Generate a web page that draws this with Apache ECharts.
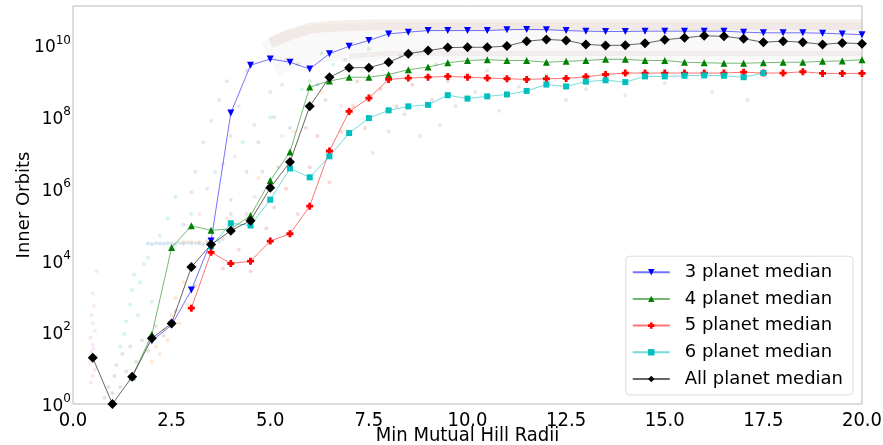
<!DOCTYPE html>
<html>
<head>
<meta charset="utf-8">
<script src="https://cdn.jsdelivr.net/npm/echarts@6/dist/echarts.min.js"></script>
<style>
  html, body { margin: 0; padding: 0; background: #fff; }
  #chart { width: 883px; height: 445px; }
</style>
</head>
<body>
<div id="chart"></div>
<script>
// min mutual hill radii (x bins)
const hillRadii = [0.5, 1.0, 1.5, 2.0, 2.5, 3.0, 3.5, 4.0, 4.5, 5.0, 5.5, 6.0, 6.5, 7.0, 7.5, 8.0, 8.5, 9.0, 9.5, 10.0,
  10.5, 11.0, 11.5, 12.0, 12.5, 13.0, 13.5, 14.0, 14.5, 15.0, 15.5, 16.0, 16.5, 17.0, 17.5, 18.0, 18.5, 19.0, 19.5, 20.0]

// medians of inner orbits, one value per bin (null = no data)
const median3 = [null, null, null, 58, 159, 1.5e3, 3.5e4, 1.3e8, 2.8e9, 4.2e9, 3.4e9, 2.2e9, 5.9e9, 9.5e9, 1.38e10, 2.1e10, 2.35e10, 2.6e10, 2.6e10, 2.6e10,
  2.6e10, 2.75e10, 2.8e10, 2.75e10, 2.6e10, 2.5e10, 2.45e10, 2.45e10, 2.5e10, 2.5e10, 2.5e10, 2.5e10, 2.5e10, 2.35e10, 2.25e10, 2.25e10, 2.25e10, 2.2e10, 2.1e10, 2.0e10]
const median4 = [null, null, 5.8, 87, 2.3e4, 9.3e4, 7e4, 7.6e4, 1.8e5, 1.7e6, 1.07e7, 6.9e8, 1.02e9, 1.3e9, 1.3e9, 1.55e9, 2.1e9, 2.5e9, 3.3e9, 3.8e9,
  4.0e9, 3.8e9, 3.8e9, 3.4e9, 3.6e9, 3.8e9, 4.1e9, 4.1e9, 3.8e9, 3.8e9, 3.4e9, 3.3e9, 3.2e9, 3.2e9, 3.3e9, 3.4e9, 3.4e9, 3.6e9, 3.7e9, 4.0e9]
const median5 = [null, null, null, null, null, 470, 1.7e4, 8.3e3, 9.6e3, 3.5e4, 5.6e4, 3.3e5, 1.14e7, 1.45e8, 3.4e8, 1.13e9, 1.23e9, 1.3e9, 1.37e9, 1.3e9,
  1.23e9, 1.18e9, 1.13e9, 1.18e9, 1.2e9, 1.34e9, 1.55e9, 1.7e9, 1.7e9, 1.7e9, 1.7e9, 1.7e9, 1.7e9, 1.8e9, 1.7e9, 1.7e9, 1.85e9, 1.66e9, 1.66e9, 1.66e9]
const median6 = [null, null, null, null, null, null, 2.5e4, 1.1e5, 9.5e4, 5e5, 3.7e6, 2.1e6, 8.1e6, 3.6e7, 9.4e7, 1.55e8, 2e8, 2.2e8, 4.1e8, 3.3e8,
  3.8e8, 4.3e8, 5.4e8, 8.1e8, 7.2e8, 9.8e8, 1.07e9, 9.5e8, 1.37e9, 1.37e9, 1.43e9, 1.46e9, 1.43e9, 1.3e9, 1.7e9, null, null, null, null, null]
const medianAll = [19.5, 1, 5.8, 68, 177, 6.6e3, 2.8e4, 6.8e4, 1.3e5, 1.07e6, 5.6e6, 2e8, 1.3e9, 2.4e9, 2.4e9, 3.4e9, 5.9e9, 7.2e9, 8.7e9, 8.9e9,
  8.9e9, 9.6e9, 1.32e10, 1.47e10, 1.38e10, 1.07e10, 1.0e10, 1.02e10, 1.15e10, 1.44e10, 1.63e10, 1.86e10, 1.8e10, 1.54e10, 1.23e10, 1.32e10, 1.23e10, 1.07e10, 1.18e10, 1.12e10]

// faint cloud of individual systems (approximate)
const pinkPts = [[0.45, 4], [0.5, 6], [0.55, 9], [0.42, 14], [0.5, 18], [0.58, 22], [0.46, 28], [0.52, 35], [0.5, 45], [0.44, 70], [0.56, 110],
  [0.5, 180], [0.47, 300], [0.53, 550], [0.5, 1200], [0.6, 5e3], [3.2, 2e5], [4.1, 8e6], [5.3, 3e7], [6.8, 2e8], [4.6, 6e5]]
const brownPts = [[0.8, 1.5], [0.9, 3], [1.0, 2], [1.05, 6], [1.1, 12], [1.2, 3], [1.25, 25], [1.35, 8], [1.45, 40], [1.6, 15], [1.75, 60],
  [1.9, 30], [2.1, 150], [2.3, 80], [2.6, 400], [3.1, 2e3], [3.8, 4e4], [4.4, 2e5], [5.2, 4e6], [5.9, 5e7], [6.4, 3e8], [7.2, 1e9]]
const cyanPts = [[1.2, 40], [1.3, 90], [1.35, 200], [1.45, 600], [1.5, 1500], [1.55, 4000], [1.65, 300], [1.7, 2500], [1.8, 8000], [1.9, 1.2e4],
  [2.0, 700], [2.2, 5e4], [2.4, 1.5e5], [2.6, 6e5], [3.0, 2e5], [3.6, 3e6], [4.3, 2e7], [5.0, 1e8], [5.8, 6e8], [6.6, 3e9]]
const bluePts = [[1.9, 3e4], [2.0, 2.9e4], [2.1, 3.1e4], [2.2, 3e4], [2.3, 2.95e4], [2.4, 3.05e4], [2.5, 3e4], [2.6, 2.9e4], [2.7, 3.1e4],
  [2.8, 3e4], [2.9, 3.2e4], [3.0, 3e4], [3.1, 3.1e4], [3.2, 3e4], [3.3, 2.9e4], [3.4, 3.2e4], [3.5, 3e4], [3.7, 3.4e4], [4.0, 2e5],
  [4.8, 3e6], [5.5, 5e7], [6.2, 8e8]]
const orangePts = [[2.0, 15], [2.1, 40], [2.2, 25], [2.3, 120], [2.4, 60], [2.5, 300], [2.6, 900], [2.7, 180], [2.8, 2500], [2.9, 600],
  [3.0, 7000], [2.8, 3.3e4], [3.0, 3.4e4], [3.2, 3.3e4], [3.4, 3.5e4], [3.9, 1.5e5], [4.7, 2e6], [5.6, 4e7], [6.3, 5e8]]
const purplePts = [[2.8, 1e5], [3.0, 8e5], [3.1, 3e6], [3.3, 2e7], [3.4, 1e6], [3.5, 8e7], [3.7, 3e8], [3.8, 5e6], [3.9, 1e9], [4.0, 3e7],
  [4.2, 2e8], [4.4, 2e9], [4.6, 6e7], [5.0, 5e8], [5.4, 4e9]]
const redPts = [[3.8, 6e3], [4.2, 2e4], [4.5, 5e3], [4.9, 8e4], [5.1, 3e5], [5.4, 1e6], [5.7, 2e5], [6.0, 4e6], [6.2, 3e7], [6.5, 1.5e6],
  [6.8, 4e7], [7.1, 2e8], [7.4, 5e7], [7.8, 6e8], [8.2, 2e8], [8.6, 8e8], [9.1, 3e8], [9.5, 1e9]]
const greenPts = [[4.0, 5e5], [4.4, 3e6], [4.7, 2e7], [5.1, 1e8], [5.3, 8e8], [5.7, 3e9], [6.0, 1e9], [6.3, 6e9], [6.9, 4e9], [7.5, 8e9],
  [8.3, 5e9], [9.2, 3e9], [10.5, 2e9], [12, 1.5e9]]
const grayPts = [[7.6, 1e7], [8.0, 4e7], [8.4, 1.2e8], [8.8, 3e7], [9.3, 6e7], [9.7, 2e8], [10.2, 5e8], [10.8, 1.5e8], [11.3, 7e8],
  [12.5, 3e8], [13.0, 6e8], [14.0, 4e8], [15.0, 9e8], [16.2, 5e8], [17.1, 3e8]]

// dense band of the cloud at the top
const bandX = [5.0, 5.5, 6.0, 6.5, 7.0, 7.5, 8.0, 9.0, 10.0, 12.0, 14.0, 16.0, 18.0, 20.0]
const bandWide = [4e9, 8e9, 1.1e10, 1.2e10, 1.2e10, 1.25e10, 1.3e10, 1.3e10, 1.3e10, 1.3e10, 1.3e10, 1.3e10, 1.3e10, 1.3e10]
const bandTop = [1.2e10, 2e10, 3e10, 3.4e10, 3.6e10, 3.7e10, 3.8e10, 3.8e10, 3.8e10, 3.8e10, 3.8e10, 3.8e10, 3.8e10, 3.8e10]
const bandLow = [null, null, null, null, 5e9, 5.5e9, 6e9, 6e9, 6e9, 6e9, 6e9, 6e9, 6e9, 6e9]

function pairs(xs, ys) {
  let out = []
  for (let i = 0; i < xs.length; i++) {
    if (ys[i] != null) out.push([xs[i], ys[i]])
  }
  return out
}

function medianSeries(name, values, symbol, size, color, lineColor, extra) {
  return Object.assign({
    name: name,
    type: 'line',
    data: pairs(hillRadii, values),
    symbol: symbol,
    symbolSize: size,
    showAllSymbol: true,
    itemStyle: { color: color },
    lineStyle: { color: lineColor, width: 1 },
    emphasis: { disabled: true },
    z: 5
  }, extra || {})
}

function cloud(pts, color) {
  return {
    type: 'scatter',
    data: pts,
    symbolSize: 4,
    itemStyle: { color: color, opacity: 0.18 },
    silent: true,
    z: 1
  }
}

function band(values, width, color) {
  return {
    type: 'line',
    data: pairs(bandX, values),
    showSymbol: false,
    symbol: 'none',
    lineStyle: { color: color, width: width, cap: 'butt', join: 'round' },
    silent: true,
    z: 1
  }
}

const chart = echarts.init(document.getElementById('chart'))

chart.setOption({
  animation: false,
  backgroundColor: '#fff',
  grid: {
    left: 73,
    right: 21,
    top: 6,
    bottom: 41,
    outerBoundsMode: 'none',
    containLabel: false,
    show: true,
    borderColor: '#b8b8b8',
    borderWidth: 1,
    backgroundColor: 'transparent'
  },
  legend: {
    data: ['3 planet median', '4 planet median', '5 planet median', '6 planet median', 'All planet median'],
    orient: 'vertical',
    right: 30,
    bottom: 50,
    itemWidth: 37,
    itemHeight: 8,
    itemGap: 8.7,
    padding: [7, 10, 7, 6],
    borderColor: '#dddddd',
    borderWidth: 1,
    borderRadius: 4,
    backgroundColor: 'rgba(255,255,255,0.85)',
    textStyle: {
      fontFamily: 'DejaVu Sans',
      fontSize: 18,
      color: '#000',
      padding: [0, 0, 0, 10]
    }
  },
  xAxis: {
    type: 'value',
    min: 0,
    max: 20,
    interval: 2.5,
    name: 'Min Mutual Hill Radii',
    nameLocation: 'middle',
    nameGap: 22,
    nameMoveOverlap: false,
    nameTextStyle: { fontFamily: 'DejaVu Sans Condensed', fontSize: 20, color: '#000' },
    axisLine: { show: false },
    axisTick: { show: false },
    splitLine: { show: false },
    axisLabel: {
      fontFamily: 'DejaVu Sans Condensed',
      fontSize: 20,
      color: '#000',
      margin: 7,
      formatter: v => v.toFixed(1)
    }
  },
  yAxis: {
    type: 'log',
    logBase: 100,
    min: 1,
    max: 1.26e11,
    name: 'Inner Orbits',
    nameLocation: 'middle',
    nameGap: 40,
    nameMoveOverlap: false,
    nameTextStyle: { fontFamily: 'DejaVu Sans', fontSize: 18, color: '#000' },
    axisLine: { show: false },
    axisTick: { show: false },
    splitLine: { show: false },
    axisLabel: {
      margin: 2,
      showMaxLabel: false,
      formatter: function (v) {
        const e = Math.log10(v)
        const r = Math.round(e)
        if (Math.abs(e - r) > 1e-6 || r % 2 !== 0) return ''
        return '{b|10}{s|' + r + '}'
      },
      rich: {
        b: { fontFamily: 'DejaVu Sans', fontSize: 17, color: '#000', lineHeight: 22, verticalAlign: 'bottom' },
        s: { fontFamily: 'DejaVu Sans', fontSize: 12, color: '#000', lineHeight: 12, verticalAlign: 'top' }
      }
    }
  },
  series: [
    band(bandWide, 38, 'rgba(175,160,160,0.06)'),
    band(bandTop, 11, 'rgba(185,140,120,0.14)'),
    band(bandLow, 5, 'rgba(170,140,130,0.10)'),
    cloud(pinkPts, '#e377c2'),
    cloud(brownPts, '#8c564b'),
    cloud(cyanPts, '#17becf'),
    cloud(bluePts, '#1f77b4'),
    cloud(orangePts, '#ff7f0e'),
    cloud(purplePts, '#9467bd'),
    cloud(redPts, '#d62728'),
    cloud(greenPts, '#2ca02c'),
    cloud(grayPts, '#7f7f7f'),
    medianSeries('3 planet median', median3, 'triangle', 7, '#0000ff', 'rgba(0,0,255,0.55)', { symbolRotate: 180 }),
    medianSeries('4 planet median', median4, 'triangle', 7, '#008000', 'rgba(0,128,0,0.55)'),
    medianSeries('5 planet median', median5, 'path://M3,0H7V3H10V7H7V10H3V7H0V3H3Z', 7, '#ff0000', 'rgba(255,0,0,0.55)'),
    medianSeries('6 planet median', median6, 'rect', 6, '#00bfbf', 'rgba(0,191,191,0.55)'),
    medianSeries('All planet median', medianAll, 'diamond', 10, '#000000', 'rgba(0,0,0,0.6)')
  ]
})
</script>
</body>
</html>
